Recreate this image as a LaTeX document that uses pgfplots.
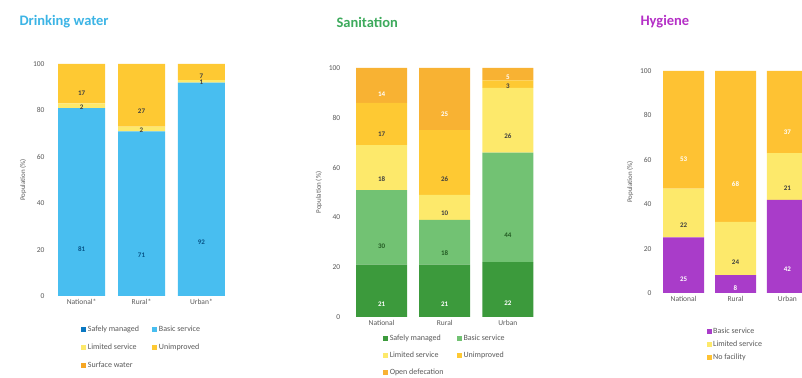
\documentclass[border=0pt]{standalone}
\usepackage{pgfplots}
\pgfplotsset{compat=1.18}
\usepackage{fontspec}
\setmainfont{Carlito}
\definecolor{wSafe}{HTML}{0A78C2}
\definecolor{wBasic}{HTML}{48BEF0}
\definecolor{cLim}{HTML}{FDE96B}
\definecolor{cUnimp}{HTML}{FEC933}
\definecolor{cSurf}{HTML}{F6A623}
\definecolor{sSafe}{HTML}{3C9A3C}
\definecolor{sBasic}{HTML}{72C273}
\definecolor{sOpen}{HTML}{F8B233}
\definecolor{hBasic}{HTML}{A93CC9}
\definecolor{hNo}{HTML}{FEC233}
\definecolor{tWater}{HTML}{3CB4E5}
\definecolor{tSan}{HTML}{3DAA5C}
\definecolor{tHyg}{HTML}{B42FC6}
\pgfplotsset{
  panel/.style={
    scale only axis, anchor=south west,
    ybar stacked, ymin=0, ymax=100, enlarge y limits=false,
    axis line style={draw=none}, major tick style={draw=none},
    ytick={0,20,...,100}, xtick={0,1,2},
    tick label style={font=\fontsize{7.5}{8}\selectfont, text=black!65},
    /pgf/number format/assume math mode=true,
    ylabel={Population (\%)}, ylabel shift=0pt,
    ylabel style={font=\fontsize{7}{8}\selectfont, text=black!65},
    legend style={draw=none, fill=none, font=\fontsize{8}{9}\selectfont, text=black!65,
      inner sep=0pt, nodes={inner sep=1.5pt}},
    legend cell align=left,
    legend image code/.code={\fill[##1] (0pt,-2.5pt) rectangle (5pt,2.5pt);},
    visualization depends on=rawy \as \rawy,
    every node near coord/.append style={font=\bfseries\fontsize{7}{8}\selectfont, anchor=center,
      shift={(axis direction cs:0,-\rawy/4)}},
  },
  dk/.style={every node near coord/.append style={text=black!75}},
  wt/.style={every node near coord/.append style={text=white}},
}
\begin{document}
\begin{tikzpicture}
\useasboundingbox (0,0) rectangle (802pt,377pt);
% ---------- Drinking water ----------
\node[anchor=west, text=tWater, font=\bfseries\fontsize{14.5}{15}\selectfont] at (16pt,355pt) {Drinking water};
\begin{axis}[panel, at={(48pt,81pt)}, width=187pt, height=232pt,
  xmin=-0.56, xmax=2.56, bar width=47pt,
  xticklabels={National*, Rural*, Urban*},
  legend columns=2,
  legend style={at={(0.5,-0.12)}, anchor=north, row sep=8pt,
    /tikz/every even column/.append style={column sep=12pt}}]
\addplot[fill=wSafe, draw=none] coordinates {(0,0) (1,0) (2,0)};
\addplot[fill=wBasic, draw=none, nodes near coords,
  every node near coord/.append style={text=wSafe!70!black}] coordinates {(0,81) (1,71) (2,92)};
\addplot[fill=cLim, draw=none, nodes near coords, dk] coordinates {(0,2) (1,2) (2,1)};
\addplot[fill=cUnimp, draw=none, nodes near coords, dk] coordinates {(0,17) (1,27) (2,7)};
\addplot[fill=cSurf, draw=none] coordinates {(0,0) (1,0) (2,0)};
\legend{Safely managed, Basic service, Limited service, Unimproved, Surface water}
\end{axis}
% ---------- Sanitation ----------
\node[anchor=west, text=tSan, font=\bfseries\fontsize{14.5}{15}\selectfont] at (333pt,355pt) {Sanitation};
\begin{axis}[panel, at={(343.7pt,60pt)}, width=202pt, height=249pt,
  xmin=-0.6, xmax=2.6, bar width=51pt,
  xticklabels={National, Rural, Urban},
  legend columns=2,
  legend style={at={(0.5,-0.065)}, anchor=north, row sep=7pt,
    /tikz/every even column/.append style={column sep=12pt}}]
\addplot[fill=sSafe, draw=none, nodes near coords, wt] coordinates {(0,21) (1,21) (2,22)};
\addplot[fill=sBasic, draw=none, nodes near coords,
  every node near coord/.append style={text=sSafe!60!black}] coordinates {(0,30) (1,18) (2,44)};
\addplot[fill=cLim, draw=none, nodes near coords, dk] coordinates {(0,18) (1,10) (2,26)};
\addplot[fill=cUnimp, draw=none, nodes near coords, dk] coordinates {(0,17) (1,26) (2,3)};
\addplot[fill=sOpen, draw=none, nodes near coords, wt] coordinates {(0,14) (1,25) (2,5)};
\legend{Safely managed, Basic service, Limited service, Unimproved, Open defecation}
\end{axis}
% ---------- Hygiene ----------
\node[anchor=west, text=tHyg, font=\bfseries\fontsize{14.5}{15}\selectfont] at (637pt,355pt) {Hygiene};
\begin{axis}[panel, at={(655pt,84pt)}, width=161pt, height=222pt,
  xmin=-0.55, xmax=2.55, bar width=41pt,
  xticklabels={National, Rural, Urban},
  legend style={at={(0.32,-0.15)}, anchor=north west, row sep=3pt}]
\addplot[fill=hBasic, draw=none, nodes near coords, wt] coordinates {(0,25) (1,8) (2,42)};
\addplot[fill=cLim, draw=none, nodes near coords, dk] coordinates {(0,22) (1,24) (2,21)};
\addplot[fill=hNo, draw=none, nodes near coords, wt] coordinates {(0,53) (1,68) (2,37)};
\legend{Basic service, Limited service, No facility}
\end{axis}
\end{tikzpicture}
\end{document}
